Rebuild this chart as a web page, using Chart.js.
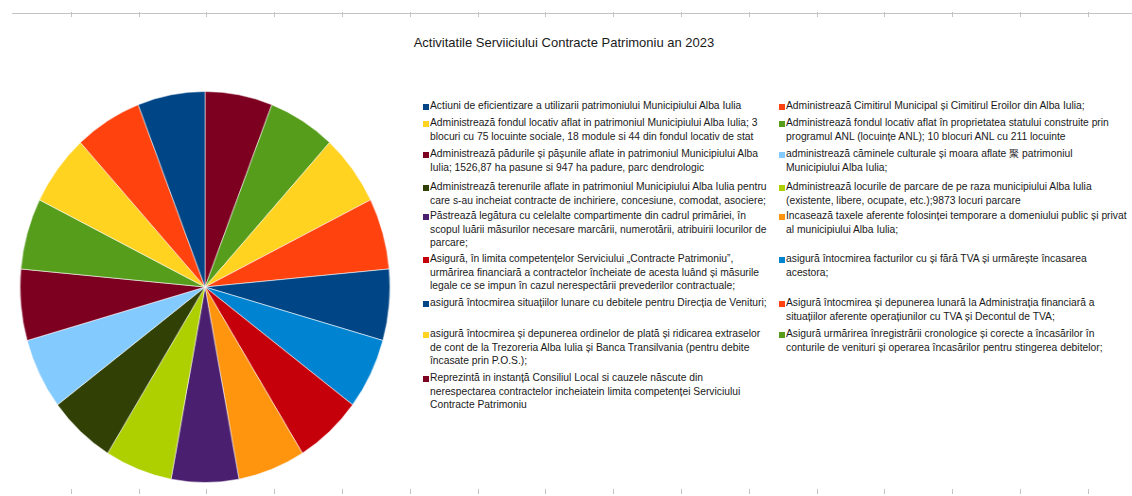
<!DOCTYPE html>
<html>
<head>
<meta charset="utf-8">
<script src="https://cdn.jsdelivr.net/npm/chart.js@4/dist/chart.umd.min.js"></script>
<style>
  html, body { margin: 0; padding: 0; background: #fff; }
  body { width: 1132px; height: 496px; position: relative; overflow: hidden; font-family: "Liberation Sans", Arial, sans-serif; }
  #ruler div { position: absolute; background: #c3c3c3; }
  #title { position: absolute; left: 0; width: 1128px; top: 35px; text-align: center; font-size: 13px; color: #1a1a1a; }
  #pieBox { position: absolute; left: 9px; top: 91px; width: 392px; height: 392px; transform: scaleX(0.946); transform-origin: center; }
  .item { position: absolute; font-size: 10.3px; line-height: 13.3px; color: #1a1a1a; white-space: nowrap; }
  .mark { position: absolute; width: 6px; height: 6px; }
</style>
</head>
<body>
<div id="ruler"></div>
<div id="title"></div>
<div id="pieBox"><canvas id="pieChart" width="392" height="392"></canvas></div>
<div id="legend"></div>
<script>
const chartTitle = 'Activitatile Serviiciului Contracte Patrimoniu an 2023'

// categorii (randuri din legenda)
const categories = [
    ['Actiuni de eficientizare a utilizarii patrimoniului Municipiului Alba Iulia'],
    ['Administrează Cimitirul Municipal și Cimitirul Eroilor din Alba Iulia;'],
    ['Administrează fondul locativ aflat in patrimoniul Municipiului Alba Iulia; 3', 'blocuri cu 75 locuinte sociale, 18 module si 44 din fondul locativ de stat'],
    ['Administrează fondul locativ aflat în proprietatea statului construite prin', 'programul ANL (locuințe ANL); 10 blocuri ANL cu 211 locuinte'],
    ['Administrează pădurile și pășunile aflate in  patrimoniul Municipiului Alba', 'Iulia; 1526,87 ha pasune si 947 ha padure, parc dendrologic'],
    ['administrează căminele culturale și moara aflate 聚 patrimoniul', 'Municipiului Alba Iulia;'],
    ['Administrează terenurile aflate in patrimoniul Municipiului Alba Iulia pentru', 'care s-au incheiat contracte de inchiriere, concesiune, comodat, asociere;'],
    ['Administrează locurile de parcare de pe raza municipiului Alba Iulia', '(existente, libere, ocupate, etc.);9873 locuri parcare'],
    ['Păstrează legătura cu celelalte compartimente din cadrul primăriei, în', 'scopul luării măsurilor necesare marcării, numerotării, atribuirii locurilor de', 'parcare;'],
    ['Incasează taxele aferente folosinței temporare a domeniului public și privat', 'al municipiului Alba Iulia;'],
    ['Asigură, în limita competențelor Serviciului „Contracte Patrimoniu”,', 'urmărirea financiară a contractelor încheiate de acesta luând și măsurile', 'legale ce se impun în cazul nerespectării prevederilor contractuale;'],
    ['asigură întocmirea facturilor cu și fără TVA și urmărește încasarea', 'acestora;'],
    ['asigură întocmirea situațiilor lunare cu debitele pentru Direcția de Venituri;'],
    ['Asigură întocmirea și depunerea lunară la Administrația financiară a', 'situațiilor aferente operațiunilor cu TVA și Decontul de TVA;'],
    ['asigură  întocmirea și depunerea ordinelor de plată și ridicarea extraselor', 'de cont de la Trezoreria Alba Iulia și Banca Transilvania (pentru debite', 'încasate prin P.O.S.);'],
    ['Asigură urmărirea înregistrării cronologice și corecte a încasărilor în', 'conturile de venituri și operarea încasărilor pentru stingerea debitelor;'],
    ['Reprezintă in instanță Consiliul Local si cauzele născute din', 'nerespectarea contractelor incheiatein limita competenței Serviciului', 'Contracte Patrimoniu']
]

// fiecare activitate are aceeasi pondere
const values = [1, 1, 1, 1, 1, 1, 1, 1, 1, 1, 1, 1, 1, 1, 1, 1, 1]

const palette = ['#004586', '#ff420e', '#ffd320', '#579d1c', '#7e0021', '#83caff',
                 '#314004', '#aecf00', '#4b1f6f', '#ff950e', '#c5000b', '#0084d1']
const colors = categories.map((c, i) => palette[i % palette.length])

// pozitia randurilor din legenda (centrul primului rand de text)
const rowY = [106, 123, 154, 187, 216, 259, 303, 334, 378]
const colX = [423, 779]

document.getElementById('title').textContent = chartTitle

// rigla de sus si de jos
let ruler = document.getElementById('ruler')
let line = document.createElement('div')
line.style.cssText = 'left:12px;top:13px;width:1120px;height:1px;'
ruler.appendChild(line)
for (let k = 0; k < 16; k++) {
    let x = Math.round(70.8 + 67.8 * k)
    let t = document.createElement('div')
    t.style.cssText = `left:${x}px;top:12px;width:1px;height:5px;`
    ruler.appendChild(t)
    let b = document.createElement('div')
    b.style.cssText = `left:${x}px;top:489px;width:1px;height:5px;`
    ruler.appendChild(b)
}

// legenda
let legend = document.getElementById('legend')
categories.forEach((lines, i) => {
    let col = i % 2
    let row = Math.floor(i / 2)
    let y = rowY[row]
    let m = document.createElement('div')
    m.className = 'mark'
    m.style.left = colX[col] + 'px'
    m.style.top = (y - 2) + 'px'
    m.style.background = colors[i]
    legend.appendChild(m)
    let t = document.createElement('div')
    t.className = 'item'
    t.style.left = (colX[col] + 7) + 'px'
    t.style.top = (y - 6.65) + 'px'
    t.innerHTML = lines.map(s => s.replace(/&/g, '&amp;').replace(/</g, '&lt;')).join('<br>')
    legend.appendChild(t)
})

// in original feliile merg in sens invers acelor de ceasornic, deci inversam ordinea
const pieLabels = categories.map(c => c.join(' ')).reverse()
const pieValues = values.slice().reverse()
const pieColors = colors.slice().reverse()

new Chart(document.getElementById('pieChart'), {
    type: 'pie',
    data: {
        labels: pieLabels,
        datasets: [{
            data: pieValues,
            backgroundColor: pieColors,
            borderColor: 'rgba(255,255,255,0.55)',
            borderWidth: 1
        }]
    },
    options: {
        responsive: false,
        animation: false,
        layout: { padding: 0 },
        plugins: {
            legend: { display: false },
            title: { display: false },
            tooltip: { enabled: false }
        }
    }
})
</script>
</body>
</html>
